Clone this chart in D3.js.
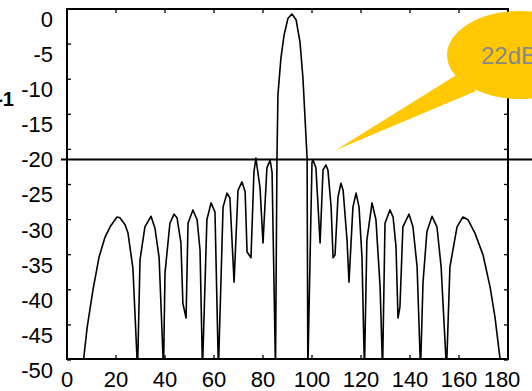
<!DOCTYPE html>
<html>
<head>
<meta charset="utf-8">
<script src="https://cdn.jsdelivr.net/npm/d3@7"></script>
<style>
  html, body { margin: 0; padding: 0; background: #fff; }
  svg { display: block; }
  text { font-family: "Liberation Sans", Arial, sans-serif; }
</style>
</head>
<body>
<script>
// Array factor pattern: angle (degrees) vs normalised gain (dB)
const angles = [
  6.3, 8.2, 10.6, 13.1, 15.5, 17.6, 20.4, 21.6, 23.7, 24.9, 26.9, 28.8,
  29.8, 31.8, 34.3, 35.9, 37.6, 39.4,
  40.0, 42.0, 43.7, 44.9, 46.5, 47.3, 48.6,
  49.4, 51.4, 53.1, 54.3, 55.3,
  57.1, 58.8, 60.4, 61.8,
  63.7, 65.3, 66.5, 68.2,
  69.8, 71.4, 72.7, 73.5, 75.1,
  76.3, 77.1, 78.8, 80.0,
  81.6, 82.9, 83.7, 85.1,
  85.7, 86.1, 87.3, 88.6, 90.2, 91.8, 93.5, 95.1, 96.3, 98.0, 98.3,
  100.0, 100.4, 101.6, 103.3,
  104.5, 105.7, 106.5, 107.8, 108.6, 109.4,
  110.6, 111.8, 112.7, 114.3, 115.1,
  116.7, 118.0, 119.2, 120.4, 121.4,
  122.4, 124.5, 126.1, 127.8, 128.8,
  129.8, 131.8, 133.1, 134.3, 135.1, 135.9,
  137.1, 139.6, 141.2, 142.9, 144.3,
  145.3, 146.9, 149.0, 151.0, 152.7, 154.9,
  156.3, 159.2, 161.6, 163.7, 166.5, 169.8, 172.7, 174.7, 177.3
];
const gainDb = [
  -50, -44.0, -38.6, -33.9, -31.1, -29.6, -28.2, -28.3, -29.3, -30.5, -35.5, -50,
  -34.3, -29.6, -28.1, -29.8, -34.0, -50,
  -36.2, -29.1, -27.8, -28.3, -31.9, -40.5, -42.6,
  -29.1, -27.2, -28.6, -32.9, -50,
  -28.6, -26.2, -27.5, -50,
  -26.8, -24.8, -25.5, -37.5,
  -24.4, -23.2, -24.6, -33.2, -34.0,
  -21.8, -19.8, -24.1, -31.9,
  -21.2, -20.1, -21.8, -50,
  -19.8, -10.8, -5.6, -2.3, 0.1, 0.7, -0.1, -3.3, -8.4, -19.8, -50,
  -20.4, -20.1, -21.2, -31.9,
  -21.5, -20.8, -21.5, -26.8, -34.0, -33.6,
  -25.4, -23.4, -24.4, -31.5, -37.5,
  -26.8, -24.8, -26.8, -33.9, -50,
  -31.5, -26.2, -28.6, -38.2, -50,
  -29.1, -27.2, -28.2, -32.5, -42.6, -41.0,
  -29.6, -27.8, -29.6, -35.3, -50,
  -37.6, -30.3, -28.1, -29.6, -35.3, -50,
  -35.3, -29.6, -28.2, -28.6, -30.5, -33.6, -38.2, -42.5, -50
];

const xTicks = [0, 20, 40, 60, 80, 100, 120, 140, 160, 180];
const yTicks = [0, -5, -10, -15, -20, -25, -30, -35, -40, -45, -50];
const thresholdDb = -20;
const calloutText = "22dB";
const sideLabel = "-1";

const W = 532, H = 391;
const frame = { left: 67, right: 508, top: 9, bottom: 359 };
const tickLift = 10; // tick marks sit slightly above their labels

const x = d3.scaleLinear().domain([0, 180]).range([frame.left, frame.right]);
const y = d3.scaleLinear().domain([0, -50]).range([19, 370]);

const svg = d3.select("body").append("svg")
  .attr("width", W).attr("height", H);

svg.append("defs").append("clipPath").attr("id", "plot-clip")
  .append("rect")
  .attr("x", frame.left).attr("y", frame.top)
  .attr("width", frame.right - frame.left)
  .attr("height", frame.bottom - frame.top);

// pattern curve
const pts = angles.map((a, i) => [a, gainDb[i]]);
svg.append("path")
  .datum(pts)
  .attr("clip-path", "url(#plot-clip)")
  .attr("fill", "none")
  .attr("stroke", "#000")
  .attr("stroke-width", 1.6)
  .attr("stroke-linejoin", "round")
  .attr("d", d3.line().x(d => x(d[0])).y(d => y(d[1])));

// frame
svg.append("rect")
  .attr("x", frame.left).attr("y", frame.top)
  .attr("width", frame.right - frame.left)
  .attr("height", frame.bottom - frame.top)
  .attr("fill", "none").attr("stroke", "#000").attr("stroke-width", 2);

// tick marks (inward on all four sides)
const tk = svg.append("g").attr("stroke", "#000").attr("stroke-width", 1.3);
xTicks.forEach(v => {
  tk.append("line").attr("x1", x(v)).attr("x2", x(v))
    .attr("y1", frame.bottom).attr("y2", frame.bottom - 4);
  tk.append("line").attr("x1", x(v)).attr("x2", x(v))
    .attr("y1", frame.top).attr("y2", frame.top + 4);
});
yTicks.forEach(v => {
  const yy = y(v) - tickLift;
  tk.append("line").attr("x1", frame.left).attr("x2", frame.left + 4)
    .attr("y1", yy).attr("y2", yy);
  tk.append("line").attr("x1", frame.right).attr("x2", frame.right - 4)
    .attr("y1", yy).attr("y2", yy);
});

// tick labels
const labelFont = 22;
svg.append("g").selectAll("text").data(yTicks).join("text")
  .attr("x", 53).attr("y", d => y(d))
  .attr("dy", "0.36em")
  .attr("text-anchor", "end")
  .attr("font-size", labelFont)
  .attr("fill", "#000")
  .text(d => d);

svg.append("g").selectAll("text").data(xTicks).join("text")
  .attr("x", d => Math.min(x(d), 502)).attr("y", 387)
  .attr("text-anchor", "middle")
  .attr("font-size", labelFont)
  .attr("fill", "#000")
  .text(d => d);

svg.append("text")
  .attr("x", 14).attr("y", 106)
  .attr("text-anchor", "end")
  .attr("font-size", 20).attr("font-weight", "bold")
  .text(sideLabel);

// -20 dB reference line
svg.append("line")
  .attr("x1", 61).attr("x2", W)
  .attr("y1", y(thresholdDb)).attr("y2", y(thresholdDb))
  .attr("stroke", "#000").attr("stroke-width", 2);

// callout bubble
const bubble = svg.append("g");
bubble.append("path")
  .attr("d", "M458,74 L336,150 L476,91 Z")
  .attr("fill", "#FFC800");
bubble.append("ellipse")
  .attr("cx", 520).attr("cy", 55).attr("rx", 73).attr("ry", 44)
  .attr("fill", "#FFC800");
bubble.append("text")
  .attr("x", 481).attr("y", 64)
  .attr("font-size", 24)
  .attr("fill", "#888")
  .text(calloutText);
</script>
</body>
</html>
